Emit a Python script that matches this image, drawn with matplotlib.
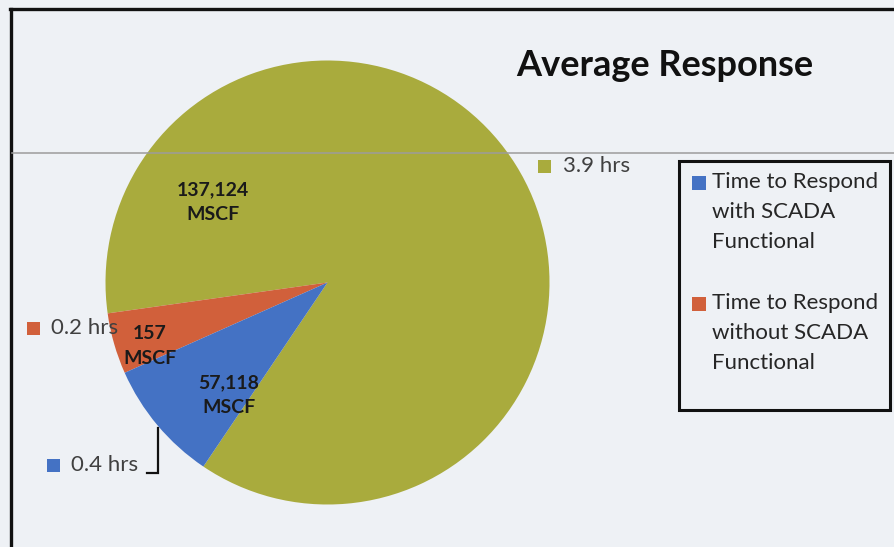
import matplotlib
matplotlib.use("Agg")
import matplotlib.pyplot as plt
from matplotlib.lines import Line2D
from matplotlib.patches import Rectangle

plt.rcParams["font.family"] = ["Lato", "DejaVu Sans"]

# 数据：平均响应时间（小时）与对应气量
hours = [3.9, 0.2, 0.4]
hour_labels = ["3.9 hrs", "0.2 hrs", "0.4 hrs"]
volume_labels = ["137,124\nMSCF", "157\nMSCF", "57,118\nMSCF"]
legend_labels = [
    "Time to Respond\nwith SCADA\nFunctional",
    "Time to Respond\nwithout SCADA\nFunctional",
]
COLORS = ["#a9ab3d", "#d1603b", "#4472c4"]
BG = "#eef1f5"

W, H = 895, 547
CX, CY, R = 327.5, 282.5, 222.0


def fx(x):
    return x / W


def fy(y):
    return 1 - y / H


def dx(x):
    return (x - CX) / R


def dy(y):
    return (CY - y) / R


fig = plt.figure(figsize=(W / 100, H / 100), dpi=100, facecolor=BG)
ax = fig.add_axes([fx(CX - R), fy(CY + R), 2 * R / W, 2 * R / H])
ax.set_facecolor("none")

wedges, _ = ax.pie(hours, colors=COLORS, startangle=236, counterclock=True,
                   radius=1, wedgeprops=dict(linewidth=0))
ax.set_xlim(-1, 1)
ax.set_ylim(-1, 1)
ax.axis("off")

# 扇区内标注（气量）
inner_pos = [(213, 202), (150, 346), (229, 395)]
for (x, y), txt in zip(inner_pos, volume_labels):
    ax.text(dx(x), dy(y), txt, ha="center", va="center", fontsize=14,
            fontweight="bold", color="#1a1a1a", linespacing=1.6)

# 扇区外标注（小时）
sq = 13 / R
outer_pos = [(545, 166), (33, 328), (53, 465)]
for (x, y), txt, c in zip(outer_pos, hour_labels, COLORS):
    ax.add_patch(Rectangle((dx(x) - sq / 2, dy(y) - sq / 2), sq, sq,
                           facecolor=c, edgecolor="none", clip_on=False))
    ax.text(dx(x + 18), dy(y), txt, ha="left", va="center", fontsize=16,
            color="#404040", clip_on=False)

# 0.4 hrs 引导线
ax.plot([dx(158), dx(158), dx(147)], [dy(428), dy(473), dy(473)],
        color="#111111", lw=1.6, clip_on=False, solid_joinstyle="miter")

# 标题
fig.text(fx(665), fy(66), "Average Response", ha="center", va="center",
         fontsize=26, fontweight="bold", color="#111111")

# 图例（手工绘制）
fig.patches.append(Rectangle((fx(679), fy(410)), (890 - 679) / W, (410 - 161) / H,
                             transform=fig.transFigure, facecolor="none",
                             edgecolor="#111111", linewidth=2.2))
leg_pos = [183, 304]
for y, txt, c in zip(leg_pos, legend_labels, [COLORS[2], COLORS[1]]):
    fig.patches.append(Rectangle((fx(692), fy(y + 7)), 14 / W, 14 / H,
                                 transform=fig.transFigure, facecolor=c,
                                 edgecolor="none"))
    fig.text(fx(712), fy(y - 11), txt, ha="left", va="top", fontsize=16,
             color="#262626", linespacing=1.62)

# 外框与扫描线
fig.add_artist(Line2D([fx(10), 1], [fy(9), fy(9)], transform=fig.transFigure,
                      color="#111111", lw=2.4))
fig.add_artist(Line2D([fx(11), fx(11)], [fy(9), 0], transform=fig.transFigure,
                      color="#111111", lw=2.4))
fig.add_artist(Line2D([fx(12), 1], [fy(153), fy(153)], transform=fig.transFigure,
                      color="#9c9c9c", lw=1.1, zorder=5))

fig.savefig("out.png", dpi=100, facecolor=BG)
